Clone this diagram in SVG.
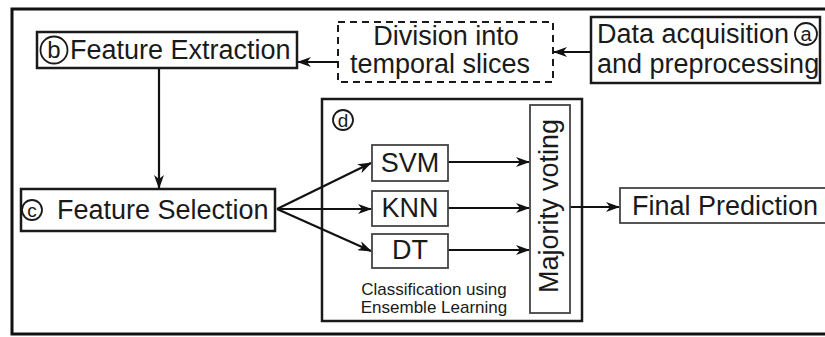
<svg xmlns="http://www.w3.org/2000/svg" width="825" height="337" viewBox="0 0 825 337">
<defs>
<style>
.t{font-family:"Liberation Sans",Arial,sans-serif;font-size:27px;fill:#1a1a1a}
.s{font-family:"Liberation Sans",Arial,sans-serif;font-size:17px;fill:#1a1a1a}
.b{fill:#fff;stroke:#1a1a1a;stroke-width:2.5}
.g{fill:#fff;stroke:#444;stroke-width:1.8}
.c{fill:none;stroke:#1a1a1a;stroke-width:1.8}
.e{fill:none;stroke:#111;stroke-width:2.2}
</style>
<marker id="ah" viewBox="0 0 14 10" refX="13" refY="5" markerWidth="14" markerHeight="10" markerUnits="userSpaceOnUse" orient="auto">
<path d="M0,0 L14,5 L0,10 L4,5 Z" fill="#111"/>
</marker>
</defs>
<rect x="0" y="0" width="825" height="337" fill="#fff"/>
<rect id="frame" x="12" y="9" width="830" height="325" fill="none" stroke="#111" stroke-width="3"/>

<g id="box-d">
<rect x="322" y="99" width="260" height="222" class="b"/>
<circle cx="343" cy="120" r="10" class="c"/>
<text x="343" y="127" text-anchor="middle" class="s" style="font-size:19px">d</text>
<text x="434" y="295" text-anchor="middle" class="s">Classification using</text>
<text x="434" y="313" text-anchor="middle" class="s">Ensemble Learning</text>
</g>

<g id="connectors">
<line x1="591" y1="52" x2="554" y2="52" class="e" marker-end="url(#ah)"/>
<line x1="338" y1="62" x2="298" y2="62" class="e" marker-end="url(#ah)"/>
<line x1="159" y1="68" x2="159" y2="188" class="e" marker-end="url(#ah)"/>
<line x1="277" y1="209" x2="371" y2="163" class="e" marker-end="url(#ah)"/>
<line x1="277" y1="209" x2="371" y2="209" class="e" marker-end="url(#ah)"/>
<line x1="277" y1="209" x2="371" y2="251" class="e" marker-end="url(#ah)"/>
<line x1="448" y1="162" x2="529" y2="162" class="e" marker-end="url(#ah)"/>
<line x1="448" y1="208" x2="529" y2="208" class="e" marker-end="url(#ah)"/>
<line x1="448" y1="250" x2="529" y2="250" class="e" marker-end="url(#ah)"/>
<line x1="570" y1="207" x2="619" y2="207" class="e" marker-end="url(#ah)"/>
</g>

<g id="data-acquisition">
<rect x="591" y="17" width="229" height="66" class="b"/>
<text x="597" y="43" class="t">Data acquisition</text>
<circle cx="806" cy="34" r="11" class="c"/>
<text x="806" y="40.5" text-anchor="middle" class="s" style="font-size:20px">a</text>
<text x="597" y="73" class="t">and preprocessing</text>
</g>

<g id="division">
<rect x="338" y="22" width="215" height="60" fill="#fff" stroke="#1a1a1a" stroke-width="2" stroke-dasharray="7,5"/>
<text x="446" y="45" text-anchor="middle" class="t">Division into</text>
<text x="440" y="73" text-anchor="middle" class="t">temporal slices</text>
</g>

<g id="feature-extraction">
<rect x="37" y="32" width="260" height="36" class="b"/>
<circle cx="54" cy="50" r="13.5" class="c"/>
<text x="54" y="58" text-anchor="middle" class="t" style="font-size:24px">b</text>
<text x="70" y="59" class="t">Feature Extraction</text>
</g>

<g id="feature-selection">
<rect x="21" y="189" width="254" height="42" class="b"/>
<circle cx="32" cy="210" r="10" class="c"/>
<text x="32" y="216.5" text-anchor="middle" class="s" style="font-size:19px">c</text>
<text x="57" y="219" class="t">Feature Selection</text>
</g>

<g id="svm">
<rect x="372" y="145" width="76" height="36" class="g"/>
<text x="410" y="172" text-anchor="middle" class="t">SVM</text>
</g>
<g id="knn">
<rect x="372" y="191" width="76" height="35" class="g"/>
<text x="410" y="217" text-anchor="middle" class="t">KNN</text>
</g>
<g id="dt">
<rect x="372" y="234" width="76" height="34" class="g"/>
<text x="410" y="259" text-anchor="middle" class="t">DT</text>
</g>

<g id="majority-voting">
<rect x="530" y="105" width="40" height="208" class="g"/>
<text transform="translate(558,206) rotate(-90)" text-anchor="middle" class="t">Majority voting</text>
</g>

<g id="final-prediction">
<rect x="620" y="188" width="220" height="35" class="g"/>
<text x="632" y="215" class="t">Final Prediction</text>
</g>
</svg>
